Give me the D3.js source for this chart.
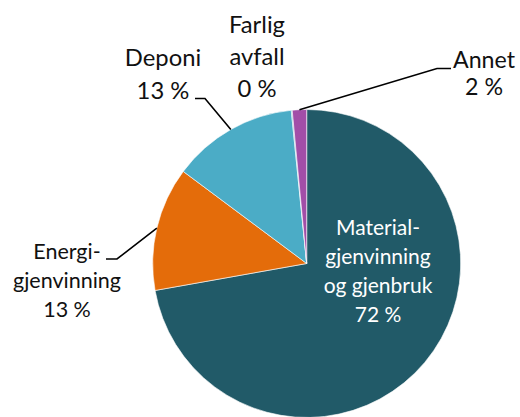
<!doctype html>
<meta charset="utf-8">
<style>
body {
  margin: 0;
  background: #fff;
  font-family: Lato, "Noto Sans", sans-serif;
}
</style>
<script src="https://cdn.jsdelivr.net/npm/d3@7"></script>
<body>

<script>

var w = 520, h = 417;

// shares in percent, clockwise from 12 o'clock
var categories = ["Material", "Energi", "Deponi", "Farlig", "Annet"];
var values = [72.2, 13.0, 13.2, 0.1, 1.5];
var labelLines = [
  ["Material-", "gjenvinning", "og gjenbruk", "72 %"],
  ["Energi-", "gjenvinning", "13 %"],
  ["Deponi", "13 %"],
  ["Farlig", "avfall", "0 %"],
  ["Annet", "2 %"]
];
var colors = ["#215a68", "#e46c0a", "#4bacc6", "#4bacc6", "#a24ea8"];

// label placement: centre x, first baseline, line step, size, text colour
var labelPos = {
  Material: {x: 378, y: 235, step: 28.9, size: 21,   fill: "#fff"},
  Energi:   {x: 67,  y: 259, step: 29,   size: 21.5, fill: "#111"},
  Deponi:   {x: 163, y: 66,  step: 33,   size: 23.8, fill: "#111"},
  Farlig:   {x: 257, y: 33,  step: 32.2, size: 23.8, fill: "#111"},
  Annet:    {x: 484, y: 68,  step: 27.3, size: 23.2, fill: "#111"}
};

// leader lines: elbow and end point (start is on the slice edge)
var leaders = {
  Energi: [[117, 259], [106, 259]],
  Deponi: [[205, 98.5], [195, 98.5]],
  Annet:  [[437, 68.5], [451, 68.5]]
};

var cx = 306.7, cy = 263.5, r = 154;

var svg = d3.select("body")
  .append("svg")
    .attr("width", w)
    .attr("height", h);

var pie = d3.pie()
    .sort(null)
    .value(function(d) { return d; });

var arc = d3.arc()
    .innerRadius(0)
    .outerRadius(r);

var arcs = pie(values);

var g = svg.append("g")
    .attr("transform", "translate(" + cx + "," + cy + ")");

g.selectAll("path")
    .data(arcs)
  .enter().append("path")
    .attr("d", arc)
    .style("fill", function(d, i) { return colors[i]; })
    .style("stroke", "#fff")
    .style("stroke-width", 0.6);

// leader lines
arcs.forEach(function(d, i) {
  var pts = leaders[categories[i]];
  if (!pts) return;
  var a = (d.startAngle + d.endAngle) / 2;
  var start = [cx + r * Math.sin(a), cy - r * Math.cos(a)];
  svg.append("path")
      .attr("d", d3.line()([start].concat(pts)))
      .style("fill", "none")
      .style("stroke", "#000")
      .style("stroke-width", 1.6);
});

// labels
categories.forEach(function(c, i) {
  var p = labelPos[c];
  var t = svg.append("text")
      .attr("text-anchor", "middle")
      .style("font-size", p.size + "px")
      .style("fill", p.fill);
  labelLines[i].forEach(function(line, j) {
    t.append("tspan")
        .attr("x", p.x)
        .attr("y", p.y + j * p.step)
        .text(line);
  });
});

</script>
